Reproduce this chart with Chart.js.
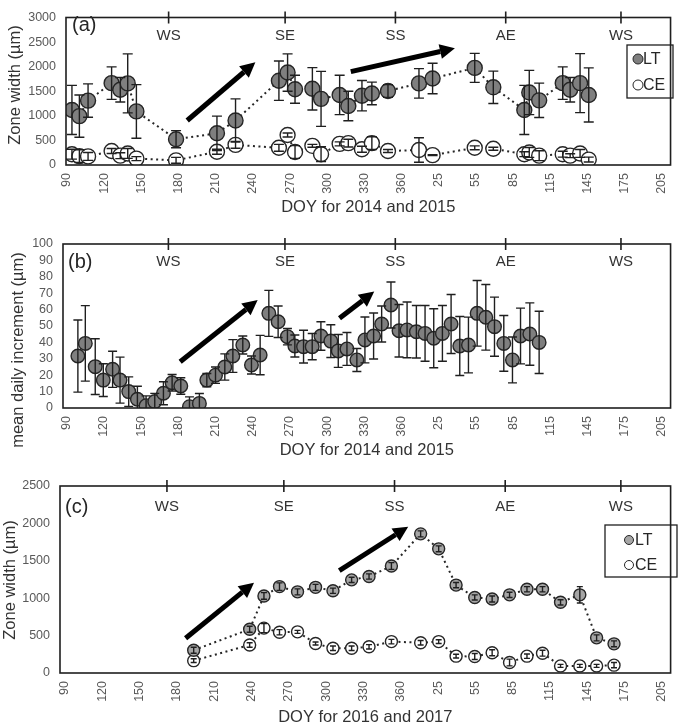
<!DOCTYPE html>
<html>
<head>
<meta charset="utf-8">
<script src="https://cdn.jsdelivr.net/npm/chart.js@4.4.0/dist/chart.umd.min.js"></script>
<style>
  body { margin: 0; background: #fff; width: 685px; height: 725px; overflow: hidden; position: relative; }
  .panel { position: absolute; left: 0; width: 685px; }
</style>
</head>
<body>
<div class="panel" style="top:0;height:225px"><canvas id="chartA"></canvas></div>
<div class="panel" style="top:225px;height:240px"><canvas id="chartB"></canvas></div>
<div class="panel" style="top:465px;height:262px"><canvas id="chartC"></canvas></div>
<script>
// x axis runs on a continuous day count, labels wrap after 365
const xTicks = [90, 120, 150, 180, 210, 240, 270, 300, 330, 360, 390, 420, 450, 480, 510, 540, 570];
const xTickLabels = ["90", "120", "150", "180", "210", "240", "270", "300", "330", "360", "25", "55", "85", "115", "145", "175", "205"];
const seasonNames = ["WS", "SE", "SS", "AE", "WS"];
const seasonDoy = [172, 266, 355, 444, 537];
const seriesNames = ["LT", "CE"];

// panel (a) : zone width 2014-2015
const aDoy = [94, 100, 107, 126, 133, 139, 146, 178, 211, 226, 261, 268, 274, 288, 295, 310, 317, 328, 336, 349, 374, 385, 419, 434, 459, 463, 471, 490, 496, 504, 511];
const aLT = [1120, 995, 1310, 1665, 1530, 1660, 1090, 525, 645, 905, 1715, 1880, 1540, 1550, 1345, 1425, 1200, 1410, 1455, 1505, 1660, 1760, 1975, 1580, 1120, 1475, 1315, 1665, 1530, 1665, 1425];
const aLTErr = [500, 430, 340, 330, 250, 600, 545, 175, 350, 440, 400, 380, 285, 430, 560, 400, 300, 310, 230, 130, 300, 310, 295, 330, 500, 450, 350, 330, 250, 600, 550];
const aCE = [220, 180, 175, 285, 190, 235, 130, 95, 270, 410, 350, 610, 265, 390, 220, 430, 445, 320, 445, 285, 305, 200, 350, 330, 220, 255, 190, 220, 190, 235, 110];
const aCEErr = [100, 130, 80, 50, 60, 100, 40, 60, 50, 70, 70, 40, 130, 30, 150, 40, 80, 60, 130, 30, 250, 10, 40, 30, 50, 100, 100, 60, 40, 80, 50];

// panel (b) : mean daily increment
const bDoy = [99, 105, 113, 119.5, 127, 133, 140, 147, 154, 161, 168, 175, 182, 189, 197, 203, 210, 217.5, 224, 232, 239, 246, 253, 260.5, 268, 274, 281, 288, 295, 303, 309, 316, 324, 330.5, 337.5, 344, 351.5, 358, 364.5, 372, 379, 386, 393, 400, 407, 414, 421, 428, 435, 442.5, 449.5, 456, 463.5, 471];
const bVal = [31.7, 39.4, 25.2, 17, 23.6, 17, 10, 5.3, 1.4, 3.9, 9, 15.4, 13.4, 0.8, 2.8, 17, 20, 25, 31.7, 38.4, 26.2, 32.3, 57.7, 52.6, 43.5, 37.8, 37.4, 37.4, 43.9, 40.8, 34.8, 36, 29.3, 41.5, 43.9, 51.2, 62.8, 47.1, 47.6, 46.5, 45.5, 42.5, 45.5, 51.2, 37.8, 38.4, 57.7, 55.3, 49.6, 39.4, 29.3, 43.9, 45.1, 40];
const bErr = [22, 23, 17, 10, 11, 14, 9, 8, 6, 5, 7, 5, 5, 6, 6, 4, 5, 8, 10, 5.5, 5.5, 12, 14, 9.6, 5, 6.7, 10, 8, 8.7, 10, 10, 10, 7, 14, 14, 11, 14, 16, 17, 16, 17, 18, 17, 18, 18, 17, 20, 20, 18, 17, 14, 17, 19, 19];

// panel (c) : zone width 2016-2017
const cDoy = [193.5, 238.5, 250, 262.5, 277, 291.5, 305.5, 320.5, 334.5, 352.5, 376, 390.5, 404.5, 419.5, 433.5, 447.5, 461.5, 474, 488.5, 504, 517.5, 531.5];
const cLT = [305, 585, 1030, 1155, 1085, 1145, 1100, 1245, 1290, 1430, 1860, 1660, 1175, 1010, 990, 1045, 1120, 1120, 945, 1045, 470, 390];
const cLTErr = [40, 40, 45, 50, 40, 40, 35, 35, 35, 45, 40, 40, 35, 35, 40, 35, 35, 35, 35, 110, 40, 40];
const cCE = [165, 375, 600, 545, 550, 395, 330, 330, 350, 420, 405, 420, 225, 220, 270, 140, 225, 265, 95, 95, 95, 105];
const cCEErr = [25, 30, 60, 35, 20, 20, 30, 30, 30, 30, 30, 25, 25, 40, 40, 45, 30, 40, 20, 20, 20, 35];

// arrows, [doyFrom, valFrom, doyTo, valTo]
const aArrows = [[187, 905, 242, 2090], [319, 1900, 403, 2375]];
const bArrows = [[181.5, 28.2, 244, 65.8], [310, 54.7, 338, 71]];
const cArrows = [[187, 464, 242, 1207], [310.6, 1368, 366, 1956]];

const FONT = "'Liberation Sans', Arial, sans-serif";
const INK = "#1f1f1f";

function pts(xs, ys) {
  return xs.map((x, i) => ({ x: x, y: ys[i] }));
}

function drawArrow(ctx, x1, y1, x2, y2) {
  const ang = Math.atan2(y2 - y1, x2 - x1);
  const head = 15, hw = 7.5;
  const bx = x2 - head * Math.cos(ang), by = y2 - head * Math.sin(ang);
  ctx.lineWidth = 5;
  ctx.beginPath();
  ctx.moveTo(x1, y1);
  ctx.lineTo(bx, by);
  ctx.stroke();
  ctx.beginPath();
  ctx.moveTo(x2, y2);
  ctx.lineTo(bx + hw * Math.sin(ang), by - hw * Math.cos(ang));
  ctx.lineTo(bx - hw * Math.sin(ang), by + hw * Math.cos(ang));
  ctx.closePath();
  ctx.fill();
}

const extras = {
  id: "extras",
  afterDatasetsDraw(chart, args, o) {
    const ctx = chart.ctx, a = chart.chartArea;
    const xs = chart.scales.x, ys = chart.scales.y;

    ctx.save();
    ctx.beginPath();
    ctx.rect(a.left, a.top, a.right - a.left, a.bottom - a.top);
    ctx.clip();
    // error bars
    ctx.strokeStyle = INK;
    ctx.lineWidth = 1.4;
    chart.data.datasets.forEach((ds, i) => {
      if (!ds.errors) return;
      const meta = chart.getDatasetMeta(i);
      ds.data.forEach((p, j) => {
        const x = meta.data[j].x;
        const t = ys.getPixelForValue(p.y + ds.errors[j]);
        const b = ys.getPixelForValue(p.y - ds.errors[j]);
        ctx.beginPath();
        ctx.moveTo(x, t); ctx.lineTo(x, b);
        ctx.moveTo(x - o.cap, t); ctx.lineTo(x + o.cap, t);
        ctx.moveTo(x - o.cap, b); ctx.lineTo(x + o.cap, b);
        ctx.stroke();
      });
    });
    // arrows
    ctx.strokeStyle = "#000";
    ctx.fillStyle = "#000";
    o.arrows.forEach(r => {
      drawArrow(ctx, xs.getPixelForValue(r[0]), ys.getPixelForValue(r[1]),
        xs.getPixelForValue(r[2]), ys.getPixelForValue(r[3]));
    });
    ctx.restore();

    ctx.save();
    // frame
    ctx.strokeStyle = INK;
    ctx.lineWidth = 1.6;
    ctx.strokeRect(a.left, a.top, a.right - a.left, a.bottom - a.top);
    // season marks on top edge
    ctx.font = "15px " + FONT;
    ctx.fillStyle = "#333";
    ctx.textAlign = "center";
    ctx.textBaseline = "middle";
    seasonDoy.forEach((d, i) => {
      const x = xs.getPixelForValue(d);
      ctx.beginPath();
      ctx.moveTo(x, a.top - 6);
      ctx.lineTo(x, a.top + 6);
      ctx.stroke();
      ctx.fillText(seasonNames[i], x, a.top + o.seasonY);
    });
    // panel letter
    ctx.font = "20px " + FONT;
    ctx.fillStyle = "#262626";
    ctx.textAlign = "left";
    ctx.fillText(o.panel, o.panelX, o.panelY);
    // y title
    ctx.save();
    ctx.translate(o.yTitleX, o.yTitleY);
    ctx.rotate(-Math.PI / 2);
    ctx.textAlign = "center";
    ctx.font = "16.5px " + FONT;
    ctx.fillStyle = "#333";
    ctx.fillText(o.yTitle, 0, 0);
    ctx.restore();
    // legend box
    if (o.legend) {
      const L = o.legend;
      ctx.lineWidth = 1.3;
      ctx.strokeStyle = INK;
      ctx.strokeRect(L.x, L.y, L.w, L.h);
      ctx.font = "16px " + FONT;
      ctx.fillStyle = "#262626";
      ctx.textAlign = "left";
      seriesNames.forEach((name, i) => {
        const ds = chart.data.datasets[i];
        ctx.beginPath();
        ctx.arc(L.cx, L.rows[i], L.r, 0, Math.PI * 2);
        ctx.fillStyle = ds.pointBackgroundColor;
        ctx.fill();
        ctx.lineWidth = 1;
        ctx.strokeStyle = ds.pointBorderColor;
        ctx.stroke();
        ctx.fillStyle = "#262626";
        ctx.fillText(name, L.tx, L.rows[i] + 1);
      });
    }
    ctx.restore();
  }
};

function seriesSet(doy, vals, errs, fill, radius, line) {
  return {
    data: pts(doy, vals),
    errors: errs,
    showLine: line,
    borderColor: "#262626",
    borderWidth: 2,
    borderDash: [2, 3.5],
    pointRadius: radius,
    pointBackgroundColor: fill,
    pointBorderColor: "#262626",
    pointBorderWidth: 1.4
  };
}

function makeChart(id, cfg) {
  return new Chart(document.getElementById(id), {
    type: "scatter",
    data: { datasets: cfg.datasets },
    options: {
      responsive: true,
      maintainAspectRatio: false,
      animation: false,
      events: [],
      layout: { padding: { top: cfg.top, right: 3, left: 0, bottom: 0 } },
      plugins: {
        legend: { display: false },
        tooltip: { enabled: false },
        extras: cfg.extras
      },
      scales: {
        x: {
          type: "linear",
          min: cfg.xMin,
          max: 577,
          afterBuildTicks: s => { s.ticks = xTicks.map(v => ({ value: v })); },
          afterFit: s => { s.height = cfg.xHeight; },
          grid: { display: false, drawTicks: false },
          border: { display: false },
          ticks: {
            autoSkip: false,
            maxRotation: 90,
            minRotation: 90,
            padding: 8,
            color: "#595959",
            font: { size: 12.5, family: FONT },
            callback: v => xTickLabels[xTicks.indexOf(v)]
          },
          title: {
            display: true,
            text: cfg.xTitle,
            color: "#333",
            font: { size: 16.5, family: FONT },
            padding: { top: 0, bottom: cfg.titlePad }
          }
        },
        y: {
          min: 0,
          max: cfg.yMax,
          afterFit: s => { s.width = cfg.yWidth; },
          grid: { display: false, drawTicks: false },
          border: { display: false },
          ticks: {
            stepSize: cfg.yStep,
            autoSkip: false,
            padding: 10,
            color: "#595959",
            font: { size: 12.5, family: FONT },
            callback: v => String(v)
          }
        }
      }
    },
    plugins: [extras]
  });
}

makeChart("chartA", {
  datasets: [
    seriesSet(aDoy, aLT, aLTErr, "#7f7f7f", 7.5, true),
    seriesSet(aDoy, aCE, aCEErr, "#ffffff", 7.5, true)
  ],
  top: 7, xMin: 89.2, xHeight: 60, yWidth: 66, yMax: 3000, yStep: 500,
  xTitle: "DOY for 2014 and 2015", titlePad: 8,
  extras: {
    cap: 5, arrows: aArrows, seasonY: 18,
    panel: "(a)", panelX: 72, panelY: 25,
    yTitle: "Zone width (µm)", yTitleX: 15, yTitleY: 85,
    legend: { x: 627, y: 45, w: 46, h: 53, cx: 638, r: 5, tx: 643, rows: [59, 85] }
  }
});

makeChart("chartB", {
  datasets: [
    seriesSet(bDoy, bVal, bErr, "#7f7f7f", 6.8, false)
  ],
  top: 19, xMin: 87, xHeight: 57, yWidth: 63, yMax: 100, yStep: 10,
  xTitle: "DOY for 2014 and 2015", titlePad: 5,
  extras: {
    cap: 4.5, arrows: bArrows, seasonY: 18,
    panel: "(b)", panelX: 68, panelY: 37,
    yTitle: "mean daily increment (µm)", yTitleX: 18, yTitleY: 125
  }
});

makeChart("chartC", {
  datasets: [
    seriesSet(cDoy, cLT, cLTErr, "#a6a6a6", 6, true),
    seriesSet(cDoy, cCE, cCEErr, "#ffffff", 6, true)
  ],
  top: 21, xMin: 86, xHeight: 54, yWidth: 60, yMax: 2500, yStep: 500,
  xTitle: "DOY for 2016 and 2017", titlePad: 0,
  extras: {
    cap: 3, arrows: cArrows, seasonY: 21,
    panel: "(c)", panelX: 65, panelY: 42,
    yTitle: "Zone width (µm)", yTitleX: 10, yTitleY: 115,
    legend: { x: 605, y: 60, w: 72, h: 52, cx: 629, r: 4.5, tx: 635, rows: [75, 100] }
  }
});
</script>
</body>
</html>
